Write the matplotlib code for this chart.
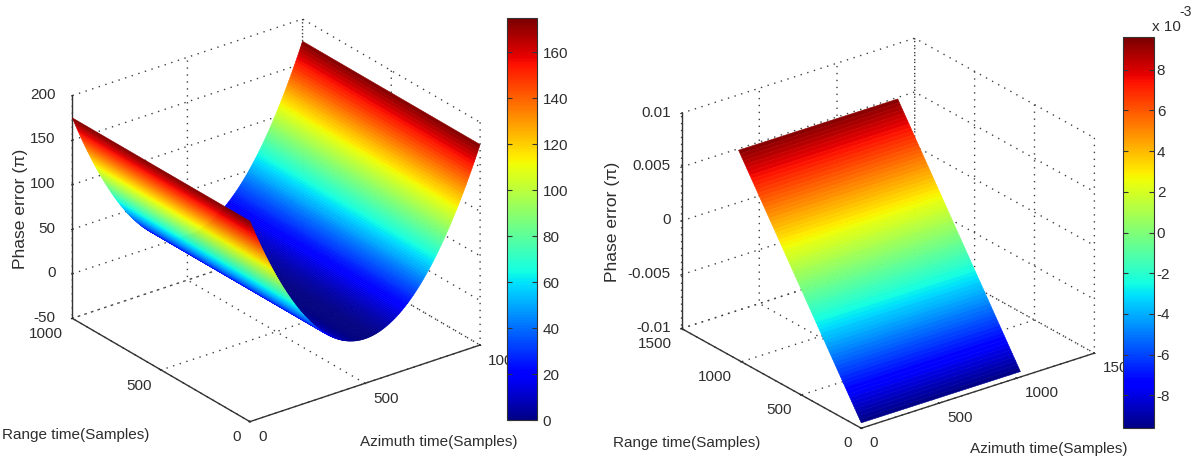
import numpy as np
import matplotlib
matplotlib.use('Agg')
import matplotlib.pyplot as plt
from matplotlib.cm import ScalarMappable
from matplotlib.colors import Normalize
from mpl_toolkits.mplot3d import proj3d

W, H = 1200, 466
plt.rcParams['font.family'] = ['Liberation Sans', 'DejaVu Sans']
plt.rcParams['font.size'] = 11
plt.rcParams['axes.unicode_minus'] = False
plt.rcParams['grid.color'] = '#404040'
plt.rcParams['grid.linestyle'] = (0, (1, 4))
plt.rcParams['grid.linewidth'] = 1.0
TXT = '#2e2e2e'

# ---- left panel data ----
left_range = [0, 1000]
left_phase_falling = [
    175.0, 171.52, 168.07, 164.66, 161.28, 157.94, 154.63, 151.36, 148.12, 144.92,
    141.75, 138.62, 135.52, 132.46, 129.43, 126.44, 123.48, 120.56, 117.67, 114.82,
    112.0, 109.22, 106.47, 103.76, 101.08, 98.44, 95.83, 93.26, 90.72, 88.22,
    85.75, 83.32, 80.92, 78.56, 76.23, 73.94, 71.68, 69.46, 67.27, 65.12,
    63.0, 60.92, 58.87, 56.86, 54.88, 52.94, 51.03, 49.16, 47.32, 45.52,
    43.75, 42.02, 40.32, 38.66, 37.03, 35.44, 33.88, 32.36, 30.87, 29.42,
    28.0, 26.62, 25.27, 23.96, 22.68, 21.44, 20.23, 19.06, 17.92, 16.82,
    15.75, 14.72, 13.72, 12.76, 11.83, 10.94, 10.08, 9.26, 8.47, 7.72,
    7.0, 6.32, 5.67, 5.06, 4.48, 3.94, 3.43, 2.96, 2.52, 2.12,
    1.75, 1.42, 1.12, 0.86, 0.63, 0.44, 0.28, 0.16, 0.07, 0.02,
    0.0,
]
left_phase = left_phase_falling + left_phase_falling[-2::-1]
left_azimuth = list(range(0, 1001, 5))
left_xyticks = [0, 500, 1000]
left_zticks = [-50, 0, 50, 100, 150, 200]
left_cticks = [0, 20, 40, 60, 80, 100, 120, 140, 160]

# ---- right panel data ----
right_azimuth = [0, 1024]
right_phase_e3 = [
    -9.50, -9.25, -9.00, -8.75, -8.50, -8.25, -8.00, -7.75, -7.50, -7.25,
    -7.00, -6.75, -6.50, -6.25, -6.00, -5.75, -5.50, -5.25, -5.00, -4.75,
    -4.50, -4.25, -4.00, -3.75, -3.50, -3.25, -3.00, -2.75, -2.50, -2.25,
    -2.00, -1.75, -1.50, -1.25, -1.00, -0.75, -0.50, -0.25, 0.00, 0.25,
    0.50, 0.75, 1.00, 1.25, 1.50, 1.75, 2.00, 2.25, 2.50, 2.75,
    3.00, 3.25, 3.50, 3.75, 4.00, 4.25, 4.50, 4.75, 5.00, 5.25,
    5.50, 5.75, 6.00, 6.25, 6.50, 6.75, 7.00, 7.25, 7.50, 7.75,
    8.00, 8.25, 8.50, 8.75, 9.00, 9.25, 9.50,
]
right_xyticks = [0, 500, 1000, 1500]
right_zticks = [-0.01, -0.005, 0, 0.005, 0.01]
right_zticklabels = ['-0.01', '-0.005', '0', '0.005', '0.01']
right_cticks = [-8, -6, -4, -2, 0, 2, 4, 6, 8]

fig = plt.figure(figsize=(W / 100, H / 100), dpi=100, facecolor='white')
jet = plt.get_cmap('jet', 256)


def corner_px(ax, x, y, z):
    xs, ys, _ = proj3d.proj_transform(x, y, z, ax.get_proj())
    return ax.transData.transform((xs, ys))


def nudge(ax, axis, ha, dx, dy):
    # mplot3d re-places tick labels on every draw; shift each placement by some pixels
    for t in axis.get_major_ticks():
        t.label1.set_ha(ha)
        orig = t.label1.set_position

        def moved(xy, orig=orig):
            px = ax.transData.transform(xy) + np.array([dx, dy])
            orig(tuple(ax.transData.inverted().transform(px)))
        t.label1.set_position = moved


def panel(X, Y, Z, vmin, vmax, lim_xy, lim_z, xyticks, zticks, zlabels,
          elev, azim, box, F, R, L, z_nudge):
    ax = fig.add_axes([0.1, 0.1, 0.3, 0.3 * W / H], projection='3d')
    ax.set_proj_type('ortho')
    ax.view_init(elev=elev, azim=azim)
    ax.set_box_aspect(box)
    surf = ax.plot_surface(X, Y, Z, rstride=1, cstride=1, cmap=jet, vmin=vmin, vmax=vmax,
                           shade=False, linewidth=0.4, antialiased=True)
    surf.set_edgecolor('face')
    ax.set_xlim(*lim_xy, view_margin=0)
    ax.set_ylim(*lim_xy, view_margin=0)
    ax.set_zlim(*lim_z, view_margin=0)
    ax.set_xticks(xyticks)
    ax.set_yticks(xyticks)
    ax.set_zticks(zticks)
    ax.set_zticklabels(zlabels)
    for a in (ax.xaxis, ax.yaxis, ax.zaxis):
        a.set_pane_color((1, 1, 1, 0))
        a.pane.set_edgecolor('none')
        a.line.set_color('#333333')
        a.line.set_linewidth(1.0)
        a._axinfo['tick']['inward_factor'] = 0.04
        a._axinfo['tick']['outward_factor'] = 0.04
        a._axinfo['tick']['linewidth'] = {True: 0.8, False: 0.6}
    ax.tick_params(colors=TXT, labelsize=11)
    ax.tick_params(axis='x', pad=3)
    ax.tick_params(axis='y', pad=3)
    ax.tick_params(axis='z', pad=3)
    ax.grid(True)
    # scale and place the axes so the box corners land where the reference has them
    fig.canvas.draw()
    for _ in range(2):
        f = corner_px(ax, lim_xy[0], lim_xy[0], lim_z[0])
        r = corner_px(ax, lim_xy[1], lim_xy[0], lim_z[0])
        l = corner_px(ax, lim_xy[0], lim_xy[1], lim_z[0])
        cur = np.hypot(*(r - f)) + np.hypot(*(l - f))
        tgt = np.hypot(R[0] - F[0], R[1] - F[1]) + np.hypot(L[0] - F[0], L[1] - F[1])
        s = tgt / cur
        p = ax.get_position()
        cx, cy = p.x0 * W + p.width * W / 2, p.y0 * H + p.height * H / 2
        mid = (f + r + l) / 3
        tm = np.array([(F[0] + R[0] + L[0]) / 3, H - (F[1] + R[1] + L[1]) / 3])
        off = (mid - np.array([cx, cy])) * s
        nc = tm - off
        side = p.width * W * s
        ax.set_position([(nc[0] - side / 2) / W, (nc[1] - side / 2) / H, side / W, side / H])
        fig.canvas.draw()
    nudge(ax, ax.xaxis, 'left', -3, 12)
    nudge(ax, ax.yaxis, 'right', 5, 10)
    nudge(ax, ax.zaxis, 'right', *z_nudge)
    return ax


# left surface
LX, LY = np.meshgrid(left_azimuth, left_range)
LZ = np.array([left_phase, left_phase])
panel(LX, LY, LZ, 0, 175, (0, 1000), (-50, 200), left_xyticks, left_zticks,
      [str(v) for v in left_zticks], 26.1, -127.1, (288.6, 294.3, 248.0),
      (250, 421.7), (480, 345), (72.3, 318.3), (9, 6))

# right surface
right_range = np.linspace(0, 1024, len(right_phase_e3))
RX, RY = np.meshgrid(right_azimuth, right_range)
RZ = np.array([[v * 1e-3, v * 1e-3] for v in right_phase_e3])
panel(RX, RY, RZ, -0.0096, 0.0096, (0, 1500), (-0.01, 0.01), right_xyticks, right_zticks,
      right_zticklabels, 25.0, -127.3, (292.6, 296.0, 237.2),
      (861.5, 428.3), (1094.2, 353.3), (681.5, 328.3), (15, 6))


def cbar(x0, x1, y0, y1, vmin, vmax, ticks, pad):
    cax = fig.add_axes([x0 / W, 1 - y1 / H, (x1 - x0) / W, (y1 - y0) / H], zorder=5)
    sm = ScalarMappable(norm=Normalize(vmin, vmax), cmap=jet)
    cb = fig.colorbar(sm, cax=cax, ticks=ticks)
    cb.outline.set_edgecolor('#333333')
    cb.outline.set_linewidth(0.8)
    cax.tick_params(axis='y', direction='in', left=True, right=True, length=3.5, width=0.8,
                    color='#333333', labelcolor=TXT, labelsize=11, pad=pad)
    cb.solids.set_edgecolor('face')
    return cb


cbar(507, 537, 18, 420, 0, 175, left_cticks, 4)
cbar(1123, 1154, 37, 428, -9.6, 9.6, right_cticks, 2)


def txt(x, y, s, size=11, **kw):
    fig.text(x / W, 1 - y / H, s, color=TXT, fontsize=size, ha='center', va='center', **kw)


txt(21, 209, 'Phase error (π)', size=12.6, rotation=90)
txt(76, 435, 'Range time(Samples)')
txt(439, 442, 'Azimuth time(Samples)')
txt(612, 222, 'Phase error (π)', size=12.6, rotation=90)
txt(687, 443, 'Range time(Samples)')
txt(1049, 449, 'Azimuth time(Samples)')
txt(1166, 27, 'x 10')
txt(1186, 12, '-3', size=10)

fig.savefig('out.png', dpi=100, facecolor='white')
